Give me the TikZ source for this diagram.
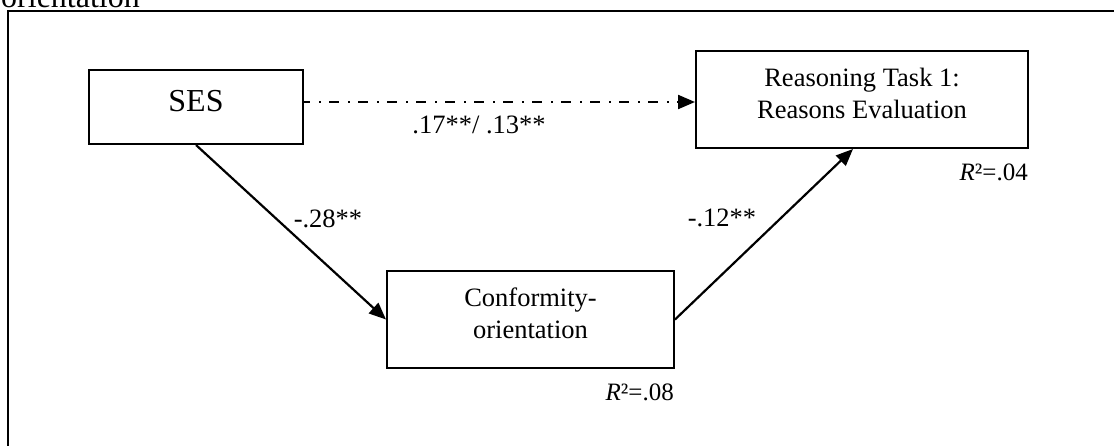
\documentclass[tikz,border=0pt]{standalone}
\usepackage{fontspec}
\setmainfont{Liberation Serif}
\usetikzlibrary{arrows.meta,calc}

\tikzset{
  frameline/.style={line width=2.2pt},
  pathbox/.style={draw, line width=2pt, rectangle, inner sep=0pt},
  boxtext/.style={font=\fontsize{26.5}{32}\selectfont, align=center, inner sep=0pt, anchor=base},
  coef/.style={font=\fontsize{26.5}{32}\selectfont, inner sep=0pt, anchor=base},
  rsq/.style={font=\fontsize{25}{30}\selectfont, inner sep=0pt, anchor=base east},
  effect/.style={line width=2.2pt, -{Triangle[length=17pt,width=14pt]}},
  direct/.style={effect, dash pattern=on 10pt off 9pt on 2pt off 8pt, dash phase=4pt}
}

\begin{document}
\begin{tikzpicture}[x=1pt,y=-1pt]
  \useasboundingbox (0,0) rectangle (1114,445);
  \clip (0,0) rectangle (1114,445);

  % caption fragment running off the top edge
  \node[font=\fontsize{32}{38}\selectfont, inner sep=0pt, anchor=base west] (cap) at (1,7) {orientation};

  % outer frame (top and left rules)
  \draw[frameline] (8,450) -- (8,11) -- (1120,11);

  % variable boxes
  \node[pathbox, minimum width=214pt, minimum height=74pt] (ses) at (196,107) {};
  \node[font=\fontsize{32}{38}\selectfont, inner sep=0pt, anchor=base] (sestext) at (196,111) {SES};

  \node[pathbox, minimum width=332pt, minimum height=97pt] (reas) at (862,99.5) {};
  \node[boxtext] (reastext) at (862,118) {Reasoning Task 1:\\Reasons Evaluation};

  \node[pathbox, minimum width=287pt, minimum height=97pt] (conf) at (530.5,319.5) {};
  \node[boxtext] (conftext) at (530.5,338) {Conformity-\\orientation};

  % explained variance
  \node[rsq] (r2reas) at (1028,180) {\textit{R}²=.04};
  \node[rsq] (r2conf) at (674,400) {\textit{R}²=.08};

  % paths
  \coordinate (dstart) at ([yshift=5pt]ses.east);
  \draw[direct] (dstart) -- (dstart -| reas.west);
  \draw[effect] (ses.south) -- (conf.west);
  \draw[effect] (conf.east) -- ([xshift=-9pt]reas.south);

  % path coefficients
  \node[coef] (cdirect) at (479,133) {.17**/ .13**};
  \node[coef] (ca) at (328,227) {-.28**};
  \node[coef] (cb) at (722,226) {-.12**};
\end{tikzpicture}
\end{document}
